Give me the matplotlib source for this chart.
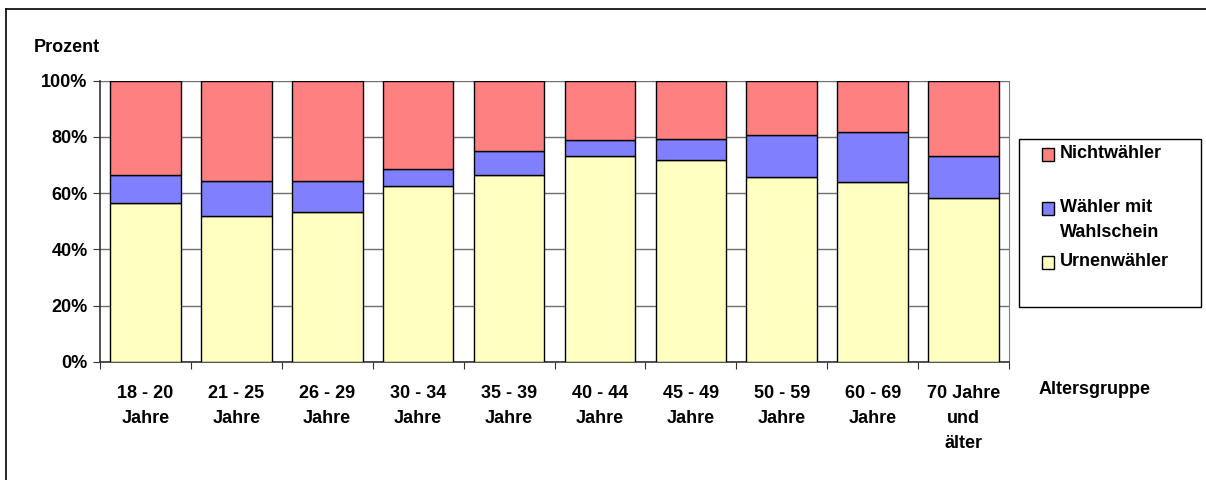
import matplotlib.pyplot as plt
import numpy as np
from matplotlib.lines import Line2D
from matplotlib.patches import Rectangle

plt.rcParams['font.family'] = ['Liberation Sans', 'DejaVu Sans']
plt.rcParams['font.weight'] = 'bold'

altersgruppen = ['18 - 20\nJahre', '21 - 25\nJahre', '26 - 29\nJahre', '30 - 34\nJahre',
                 '35 - 39\nJahre', '40 - 44\nJahre', '45 - 49\nJahre', '50 - 59\nJahre',
                 '60 - 69\nJahre', '70 Jahre\nund\nälter']
urnenwaehler = [56.4, 52.0, 53.3, 62.6, 66.3, 73.1, 71.9, 65.7, 63.8, 58.3]
wahlschein = [10.0, 12.3, 11.0, 6.1, 8.8, 5.8, 7.4, 14.9, 18.1, 14.8]
nichtwaehler = [100 - u - w for u, w in zip(urnenwaehler, wahlschein)]

W, H = 1206, 480
fig = plt.figure(figsize=(W / 100, H / 100), dpi=100)
ax = fig.add_axes([100 / W, (H - 361.7) / H, 909 / W, 281 / H])

x = np.arange(len(altersgruppen))
breite = 0.777
kw = dict(width=breite, edgecolor='black', linewidth=1.0, zorder=3)
ax.bar(x, urnenwaehler, color='#FFFFC0', label='Urnenwähler', **kw)
ax.bar(x, wahlschein, bottom=urnenwaehler, color='#8080FF',
       label='Wähler mit\nWahlschein', **kw)
unten = [u + w for u, w in zip(urnenwaehler, wahlschein)]
ax.bar(x, nichtwaehler, bottom=unten, color='#FF8080', label='Nichtwähler', **kw)

ax.set_xlim(-0.5, len(altersgruppen) - 0.5)
ax.set_ylim(0, 100)
ax.set_yticks(np.arange(0, 101, 20))
ax.set_yticklabels([f'{v}%' for v in range(0, 101, 20)], fontsize=13, fontweight='bold')
ax.yaxis.grid(True, color='#707070', linewidth=1.0, zorder=0)
ax.set_axisbelow(True)

# Kategorie-Ticks zwischen den Balken
ax.set_xticks(np.arange(-0.5, len(altersgruppen) + 0.5, 1))
ax.set_xticklabels([])
ax.set_xticks(x, minor=True)
ax.set_xticklabels(altersgruppen, minor=True, fontsize=13, fontweight='bold',
                   linespacing=1.6, va='top')
ax.tick_params(axis='x', which='minor', length=0, pad=17)
ax.tick_params(axis='x', which='major', length=5, color='#333333', direction='out')
ax.tick_params(axis='y', length=5, color='#333333', direction='out', pad=4)

for s in ['left', 'bottom']:
    ax.spines[s].set_color('#333333')
    ax.spines[s].set_linewidth(1.2)
ax.spines['right'].set_color('#808080')
ax.spines['top'].set_visible(False)

fig.text(34 / W, 1 - 48 / H, 'Prozent', fontsize=13, fontweight='bold', va='center')
fig.text(1039 / W, 1 - 389 / H, 'Altersgruppe', fontsize=13, fontweight='bold', va='center')

# Legende von Hand, mit Kasten
fig.patches.append(Rectangle((1019 / W, 1 - 306.7 / H), 182 / W, 168 / H,
                             transform=fig.transFigure, facecolor='white',
                             edgecolor='black', linewidth=1.0))
eintraege = [('Nichtwähler', '#FF8080', 154), ('Wähler mit', '#8080FF', 208),
             ('Urnenwähler', '#FFFFC0', 262)]
for text, farbe, yp in eintraege:
    fig.patches.append(Rectangle((1042 / W, 1 - (yp + 7) / H), 12 / W, 13 / H,
                                 transform=fig.transFigure, facecolor=farbe,
                                 edgecolor='black', linewidth=1.0))
    fig.text(1060 / W, 1 - yp / H, text, fontsize=13, fontweight='bold', va='center')
fig.text(1060 / W, 1 - 233 / H, 'Wahlschein', fontsize=13, fontweight='bold', va='center')

# Rahmen oben und links
fig.add_artist(Line2D([6 / W, 6 / W], [0, 1 - 9 / H], color='black', linewidth=1.2))
fig.add_artist(Line2D([6 / W, 1], [1 - 9 / H, 1 - 9 / H], color='black', linewidth=1.2))

fig.savefig('out.png', dpi=100)
